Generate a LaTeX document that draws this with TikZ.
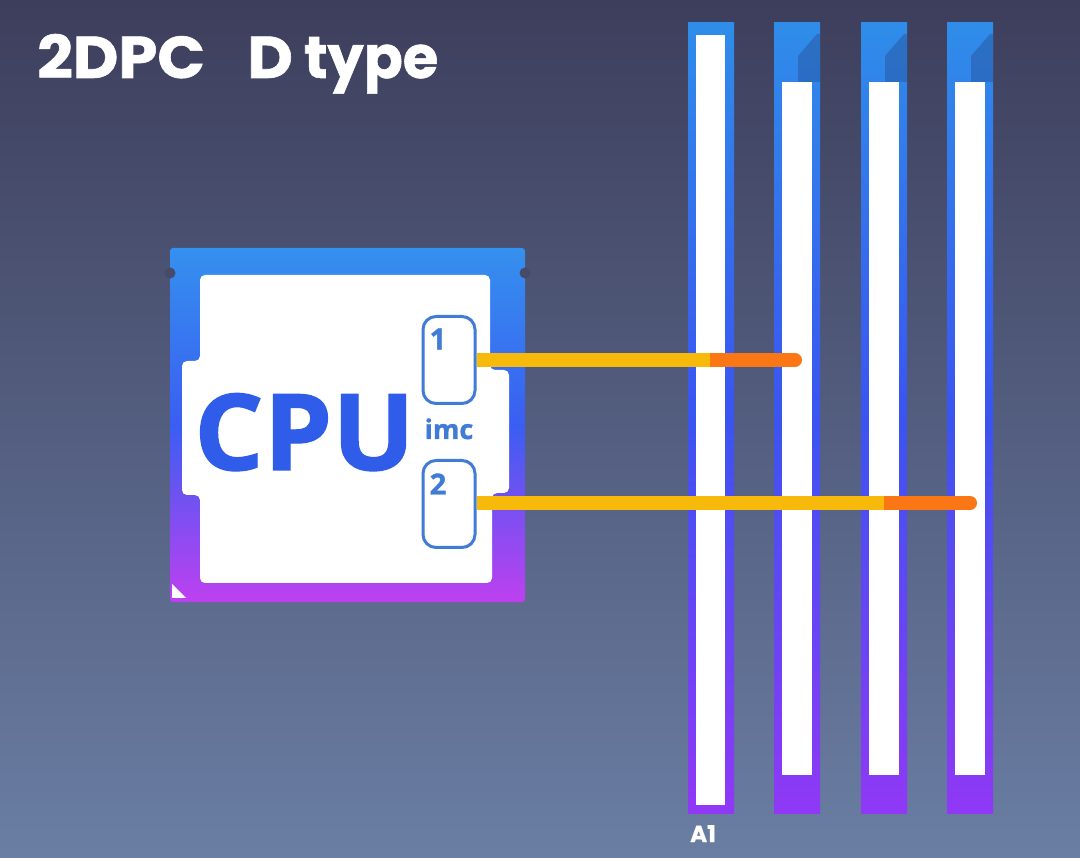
\documentclass[tikz,border=0pt]{standalone}
\usepackage{fontspec}
\setmainfont{Open Sans}[BoldFeatures={FakeBold=1.2}]
\newfontfamily\titlefont{Poppins}[BoldFeatures={FakeBold=1.0}]
\definecolor{bgtop}{RGB}{61,62,92}
\definecolor{bgbot}{RGB}{106,126,163}
\definecolor{pkgtop}{RGB}{53,144,238}
\definecolor{pkgmid}{RGB}{58,94,242}
\definecolor{pkgbot}{RGB}{190,64,240}
\definecolor{slottop}{RGB}{47,141,233}
\definecolor{slotmid}{RGB}{58,84,240}
\definecolor{slotbot}{RGB}{144,56,245}
\definecolor{cpublue}{RGB}{47,92,232}
\definecolor{portblue}{RGB}{64,124,214}
\definecolor{wireyel}{RGB}{248,186,10}
\definecolor{wireor}{RGB}{251,118,20}
\definecolor{bevel}{RGB}{40,90,165}
\begin{document}
\begin{tikzpicture}[x=1pt,y=-1pt,
  slotframe/.style={top color=slottop,bottom color=slotbot,middle color=slotmid},
  slotcore/.style={fill=white},
  port/.style={draw=portblue,line width=3pt,fill=white,rounded corners=13pt,minimum width=52pt,minimum height=87pt,inner sep=0pt},
  portnum/.style={text=portblue,font=\bfseries\fontsize{29}{29}\selectfont,inner sep=0pt},
  wireA/.style={wireyel,line width=14pt},
  wireB/.style={wireor,line width=14pt,line cap=round},
  bevelshape/.style={fill=bevel,opacity=0.55}]
\useasboundingbox (0,0) rectangle (1080,858);
\shade[top color=bgtop,bottom color=bgbot] (0,0) rectangle (1080,858);
% title
\node[anchor=base west,inner sep=0pt,text=white,xscale=1.06,font=\titlefont\bfseries\fontsize{59}{59}\selectfont] (title) at (37,78) {2DPC\hspace{40pt}D\hspace{-2pt} \scalebox{0.92}[1]{type}};
% DIMM slots
\shade[slotframe] (688,23) rectangle (734,813);
\fill[slotcore] (696,35) rectangle (725,805);
\foreach \x/\n in {774/b,861/c,947/d}{
  \shade[slotframe] (\x,23) rectangle (\x+46,813);
  \fill[slotcore] (\x+8,82) rectangle (\x+38,775);
  \fill[bevelshape] (\x+24,56) -- (\x+43,34) -- (\x+46,34) -- (\x+46,82) -- (\x+24,82) -- cycle;
}
\node[anchor=base west,inner sep=0pt,text=white,font=\titlefont\bfseries\fontsize{23}{23}\selectfont] (a1) at (690,842) {A1};
% CPU package
\shade[top color=pkgtop,bottom color=pkgbot,middle color=pkgmid,rounded corners=3pt] (170,248) rectangle (525,602);
\fill[bgtop!80!bgbot] (170,273) circle (5.5);
\fill[bgtop!80!bgbot] (525,273) circle (5.5);
\fill[white] (172,584) -- (172,598) -- (186,598) -- cycle;
\fill[white,rounded corners=5pt] (200,275) -- (490,275) -- (490,370) -- (509,370) -- (509,493) -- (492,493) -- (492,583) -- (200,583) -- (200,495) -- (182,495) -- (182,361) -- (200,361) -- cycle;
\node[anchor=base west,inner sep=0pt,text=cpublue,xscale=1.03,font=\bfseries\fontsize{106}{106}\selectfont] (cpu) at (194,470) {CPU};
\node[anchor=base,inner sep=0pt,text=portblue,font=\bfseries\fontsize{27}{27}\selectfont] (imc) at (449,439) {imc};
\node[port] (p1) at (449,360) {};
\node[port] (p2) at (449,504) {};
\node[portnum] at (438,339) {1};
\node[portnum] at (438,484) {2};
% wires
\coordinate (w1m) at (710,360);
\coordinate (w1e) at (795,360);
\coordinate (w2m) at (884,503);
\coordinate (w2e) at (970,503);
\draw[wireB] (w1m) -- (w1e);
\draw[wireA] (p1.east) -- (w1m);
\draw[wireB] (w2m) -- (w2e);
\draw[wireA] (p1.east |- w2m) -- (w2m);
\end{tikzpicture}
\end{document}
